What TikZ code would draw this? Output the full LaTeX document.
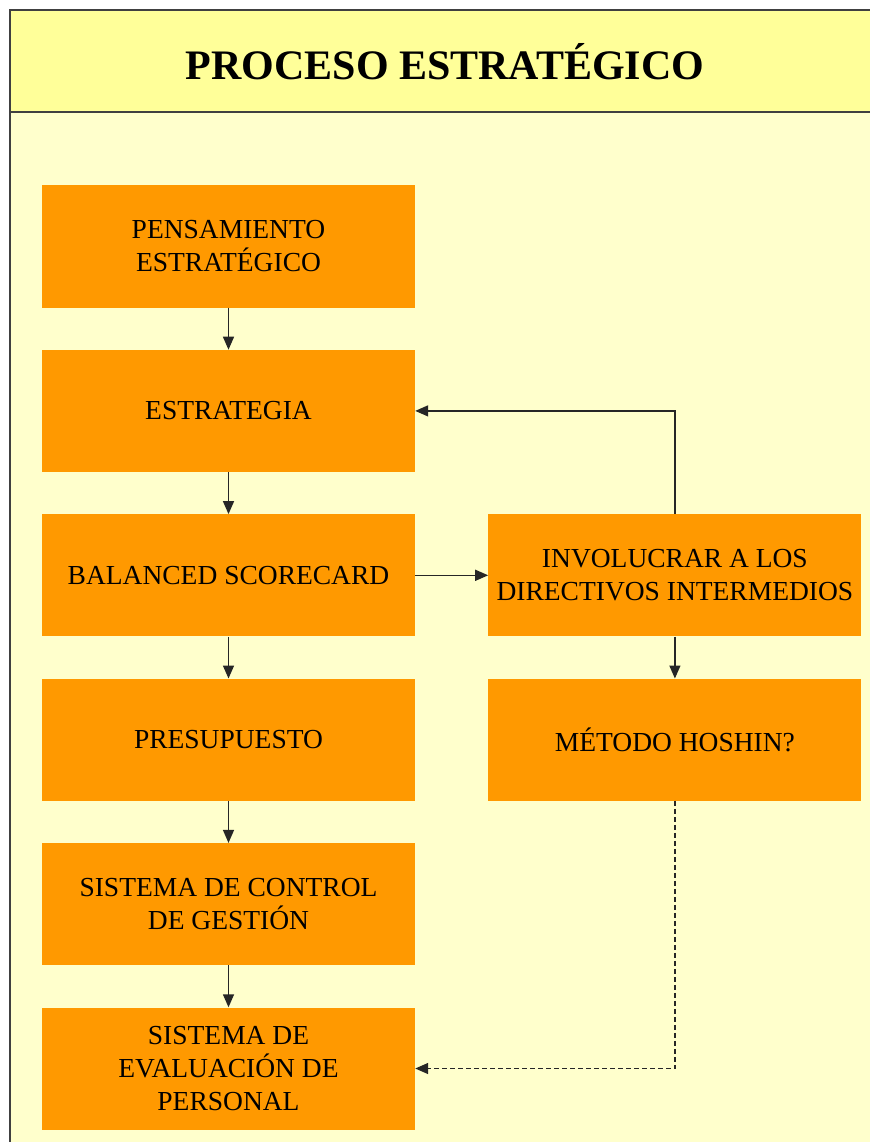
\documentclass[tikz,border=0pt]{standalone}
\usepackage{fontspec}
\setmainfont{Liberation Serif}
\usetikzlibrary{arrows.meta,positioning}
%
\definecolor{titleyellow}{HTML}{FFFF99}
\definecolor{paleyellow}{HTML}{FFFFCC}
\definecolor{boxorange}{HTML}{FF9900}
%
\tikzset{
  stage/.style={fill=boxorange, minimum width=373pt, minimum height=122pt,
    inner sep=0pt, align=center, font=\fontsize{27.5}{33}\selectfont},
  flow/.style={draw=black!85, line width=1.4pt, -{Triangle[length=13pt,width=11pt]}},
}
\begin{document}
\begin{tikzpicture}[x=1pt, y=-1pt, node distance=42pt and 73pt]%
%
\useasboundingbox (0,0) rectangle (870,1142);
\fill[paleyellow] (10,10) rectangle (870,1142);
\fill[titleyellow] (10,10) rectangle (870,112);
\draw[line width=1.5pt, black!75] (10,1142) -- (10,10) -- (870,10);
\draw[line width=1.3pt, black!75] (10,112) -- (870,112);
\node[font=\bfseries\fontsize{42}{50}\selectfont] (title) at (445,62) {PROCESO ESTRATÉGICO};
%
% left column
\node[stage] (pens) at (228.5,246.5) {PENSAMIENTO\\ESTRATÉGICO};
\node[stage, below=of pens] (estr) {ESTRATEGIA};
\node[stage, below=of estr] (bsc) {BALANCED SCORECARD};
\node[stage, below=of bsc] (pres) {PRESUPUESTO};
\node[stage, below=of pres] (ctrl) {SISTEMA DE CONTROL\\DE GESTIÓN};
\node[stage, below=of ctrl] (eval) {SISTEMA DE\\EVALUACIÓN DE\\PERSONAL};
%
% right column
\node[stage, right=of bsc] (invol) {INVOLUCRAR A LOS\\DIRECTIVOS INTERMEDIOS};
\node[stage, below=of invol] (hosh) {MÉTODO HOSHIN?};
%
\draw[flow] (pens) -- (estr);
\draw[flow] (estr) -- (bsc);
\draw[flow] (bsc) -- (pres);
\draw[flow] (pres) -- (ctrl);
\draw[flow] (ctrl) -- (eval);
\draw[flow] (bsc) -- (invol);
\draw[flow] (invol) -- (hosh);
\draw[flow] (invol.north) |- (estr.east);
\draw[flow, dash pattern=on 5pt off 3pt] (hosh.south) |- (eval.east);
%
\end{tikzpicture}
\end{document}
